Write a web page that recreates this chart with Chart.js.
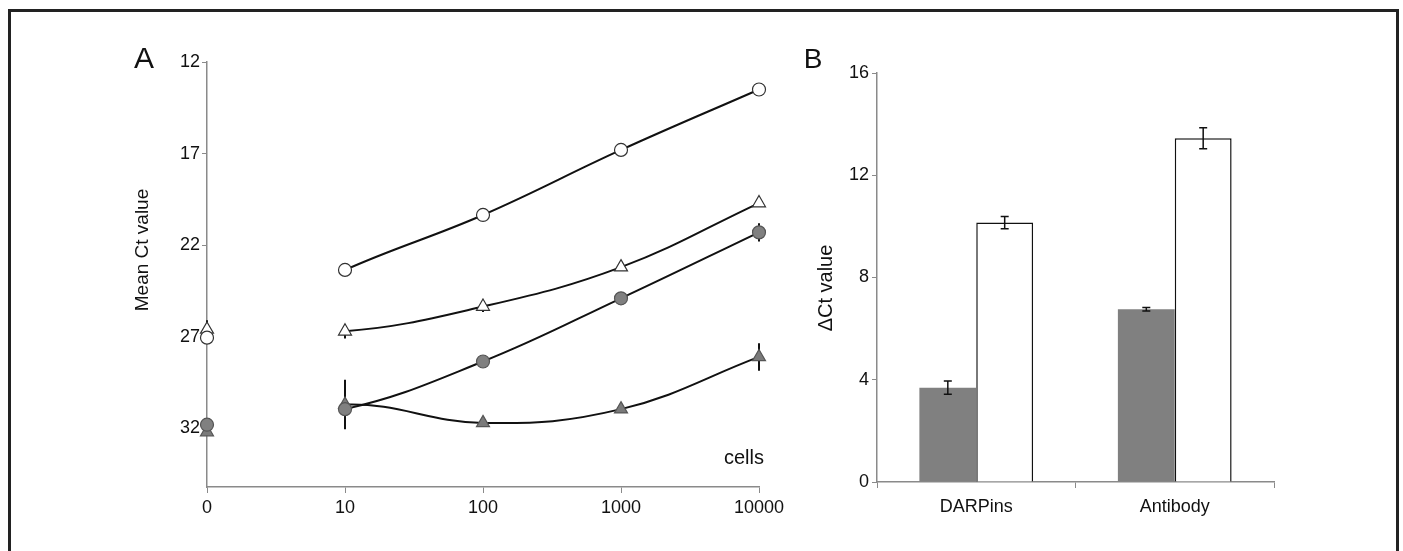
<!DOCTYPE html>
<html>
<head>
<meta charset="utf-8">
<script src="https://cdn.jsdelivr.net/npm/chart.js@4/dist/chart.umd.min.js"></script>
<style>
  html, body { margin: 0; padding: 0; background: #fff; width: 1403px; height: 551px; overflow: hidden; }
  #frame { position: absolute; left: 8px; top: 9px; width: 1385px; height: 560px; border: 3px solid #222; }
  #wrapA { position: absolute; left: 100px; top: 30px; width: 700px; height: 521px; }
  #wrapB { position: absolute; left: 780px; top: 30px; width: 560px; height: 521px; }
</style>
</head>
<body>
<div id="frame"></div>
<div id="wrapA"><canvas id="chartA" width="700" height="521"></canvas></div>
<div id="wrapB"><canvas id="chartB" width="560" height="521"></canvas></div>
<script>
// ---------- Panel A data ----------
const cellLabels = ['0', '10', '100', '1000', '10000'];
const yTicksA = [12, 17, 22, 27, 32];
const openCircle     = [27.05, 23.35, 20.35, 16.8, 13.5];
const openTriangle   = [26.6, 26.7, 25.35, 23.2, 19.7];
const filledCircle   = [31.8, 30.95, 28.35, 24.9, 21.3];
const filledTriangle = [32.2, 30.7, 31.7, 30.95, 28.1];
const openCircleErr     = [0, 0, 0, 0, 0];
const openTriangleErr   = [0.5, 0.4, 0.3, 0, 0];
const filledCircleErr   = [0, 0, 0, 0, 0.5];
const filledTriangleErr = [0, 1.35, 0, 0, 0.75];

// ---------- Panel B data ----------
const methodLabels = ['DARPins', 'Antibody'];
const yTicksB = [0, 4, 8, 12, 16];
const grayBars  = [3.69, 6.76];
const grayErr   = [0.26, 0.07];
const whiteBars = [10.15, 13.45];
const whiteErr  = [0.24, 0.41];

const FONT = "'Liberation Sans', Arial, sans-serif";
Chart.defaults.font.family = FONT;
Chart.defaults.color = '#111';
Chart.defaults.animation = false;

function drawErrors(chart, o) {
  const ctx = chart.ctx, ys = chart.scales.y;
  ctx.save();
  ctx.strokeStyle = o.color || '#111';
  ctx.lineWidth = o.width || 1.5;
  chart.data.datasets.forEach((ds, i) => {
    if (!ds.errors) return;
    const meta = chart.getDatasetMeta(i);
    meta.data.forEach((el, j) => {
      const e = ds.errors[j], v = ds.data[j];
      if (!e || v == null) return;
      const x = el.x;
      const y1 = ys.getPixelForValue(v - e), y2 = ys.getPixelForValue(v + e);
      ctx.beginPath();
      ctx.moveTo(x, y1); ctx.lineTo(x, y2);
      if (o.cap) {
        ctx.moveTo(x - o.cap, y1); ctx.lineTo(x + o.cap, y1);
        ctx.moveTo(x - o.cap, y2); ctx.lineTo(x + o.cap, y2);
      }
      ctx.stroke();
    });
  });
  ctx.restore();
}
const errorBarPlugin = {
  id: 'errorBars',
  beforeDatasetsDraw(chart, args, o) { if (o.behind) drawErrors(chart, o); },
  afterDatasetsDraw(chart, args, o) { if (!o.behind) drawErrors(chart, o); }
};
const textPlugin = {
  id: 'texts',
  afterDraw(chart, args, o) {
    const ctx = chart.ctx;
    (o.items || []).forEach(t => {
      ctx.save();
      ctx.font = t.font;
      ctx.fillStyle = '#111';
      ctx.textAlign = t.align || 'center';
      ctx.textBaseline = 'middle';
      ctx.translate(t.x, t.y);
      if (t.rot) ctx.rotate(t.rot);
      ctx.fillText(t.text, 0, 0);
      ctx.restore();
    });
  }
};

const lineSeg = { borderColor: c => c.p0DataIndex === 0 ? 'rgba(0,0,0,0)' : '#111' };
function lineDs(label, data, errors, style, fill, border, radius) {
  return {
    label, data, errors,
    borderColor: '#111', borderWidth: 2, tension: 0.4,
    segment: lineSeg,
    pointStyle: style, pointRadius: radius,
    pointBackgroundColor: fill, pointBorderColor: border, pointBorderWidth: 1.2
  };
}

new Chart(document.getElementById('chartA'), {
  type: 'line',
  data: {
    labels: cellLabels,
    datasets: [
      lineDs('open circle', openCircle, openCircleErr, 'circle', '#fff', '#333', 6.5),
      lineDs('open triangle', openTriangle, openTriangleErr, 'triangle', '#fff', '#333', 7.5),
      lineDs('filled circle', filledCircle, filledCircleErr, 'circle', '#808080', '#555', 6.5),
      lineDs('filled triangle', filledTriangle, filledTriangleErr, 'triangle', '#7a7a7a', '#555', 7.5)
    ]
  },
  options: {
    responsive: false,
    layout: { padding: { left: 0, right: 41, top: 32, bottom: 0 } },
    plugins: {
      legend: { display: false }, tooltip: { enabled: false },
      errorBars: { behind: true, cap: 0, color: '#111', width: 2 },
      texts: { items: [
        { text: 'A', x: 44, y: 30, font: '30px ' + FONT },
        { text: 'Mean Ct value', x: 43, y: 220, rot: -Math.PI / 2, font: '19px ' + FONT },
        { text: 'cells', x: 664, y: 428, align: 'right', font: '20px ' + FONT }
      ] }
    },
    scales: {
      x: {
        type: 'category', offset: false,
        grid: { drawOnChartArea: false, drawTicks: true, tickLength: 6, color: '#8a8a8a', offset: false },
        border: { color: '#8a8a8a', width: 1.5 },
        ticks: { font: { size: 18 }, padding: 4, maxRotation: 0, autoSkip: false, color: '#111' },
        afterFit: s => { s.height = 64; }
      },
      y: {
        reverse: true, min: 12, max: 35.2,
        afterBuildTicks: s => { s.ticks = yTicksA.map(v => ({ value: v })); },
        grid: { drawOnChartArea: false, drawTicks: true, tickLength: 5, color: '#8a8a8a' },
        border: { color: '#8a8a8a', width: 1.5 },
        ticks: { font: { size: 18 }, padding: 2, color: '#111' },
        afterFit: s => { s.width = 107; }
      }
    }
  },
  plugins: [errorBarPlugin, textPlugin]
});

new Chart(document.getElementById('chartB'), {
  type: 'bar',
  data: {
    labels: methodLabels,
    datasets: [
      { label: 'gray', data: grayBars, errors: grayErr, backgroundColor: '#808080', borderWidth: 0 },
      { label: 'white', data: whiteBars, errors: whiteErr, backgroundColor: '#fff', borderColor: '#111', borderWidth: 1.5 }
    ]
  },
  options: {
    responsive: false,
    categoryPercentage: 0.573, barPercentage: 1,
    layout: { padding: { left: 0, right: 66, top: 43, bottom: 0 } },
    plugins: {
      legend: { display: false }, tooltip: { enabled: false },
      errorBars: { behind: false, cap: 4, color: '#111', width: 1.5 },
      texts: { items: [
        { text: 'B', x: 33, y: 30, font: '28px ' + FONT },
        { text: 'ΔCt value', x: 46, y: 258, rot: -Math.PI / 2, font: '20px ' + FONT }
      ] }
    },
    scales: {
      x: {
        grid: { drawOnChartArea: false, drawTicks: true, tickLength: 6, color: '#8a8a8a', offset: true },
        border: { color: '#8a8a8a', width: 1.5 },
        ticks: { font: { size: 18 }, padding: 8, maxRotation: 0, color: '#111' },
        afterFit: s => { s.height = 69; }
      },
      y: {
        min: 0, max: 16,
        afterBuildTicks: s => { s.ticks = yTicksB.map(v => ({ value: v })); },
        grid: { drawOnChartArea: false, drawTicks: true, tickLength: 5, color: '#8a8a8a' },
        border: { color: '#8a8a8a', width: 1.5 },
        ticks: { font: { size: 18 }, padding: 3, color: '#111' },
        afterFit: s => { s.width = 97; }
      }
    }
  },
  plugins: [errorBarPlugin, textPlugin]
});
</script>
</body>
</html>
